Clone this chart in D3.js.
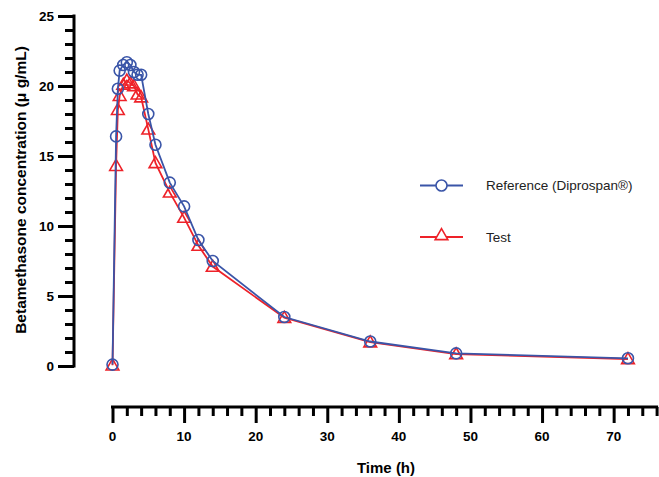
<!DOCTYPE html>
<html>
<head>
<meta charset="utf-8">
<script src="https://cdn.jsdelivr.net/npm/d3@7"></script>
<style>
  body { margin: 0; background: #fff; }
  text { font-family: "Liberation Sans", Arial, sans-serif; }
</style>
</head>
<body>
<div id="chart"></div>
<script>
var timeH = [0, 0.5, 0.75, 1, 1.5, 2, 2.5, 3, 3.5, 4, 5, 6, 8, 10, 12, 14, 24, 36, 48, 72];
var referenceConc = [0.1, 16.4, 19.8, 21.1, 21.5, 21.7, 21.5, 21.0, 20.8, 20.8, 18.0, 15.8, 13.1, 11.4, 9.0, 7.5, 3.5, 1.75, 0.9, 0.55];
var testConc = [0.05, 14.3, 18.3, 19.3, 20.1, 20.4, 20.2, 20.0, 19.4, 19.2, 16.9, 14.5, 12.4, 10.6, 8.6, 7.1, 3.45, 1.7, 0.85, 0.5];
var xMajorTicks = [0, 10, 20, 30, 40, 50, 60, 70];
var yMajorTicks = [0, 5, 10, 15, 20, 25];
var seriesNames = ["Reference (Diprospan\u00AE)", "Test"];

var d3Dimension = { width: 659, height: 477 };
var blue = "#3a55a8";
var red = "#ee2229";

var svg = d3.select("#chart").append("svg")
    .attr("width", d3Dimension.width)
    .attr("height", d3Dimension.height);

var x = d3.scaleLinear().domain([0, 76]).range([112.5, 656.6]);
var y = d3.scaleLinear().domain([0, 25]).range([366, 16]);

// y axis, GraphPad style
var yAxisG = svg.append("g").attr("transform", "translate(74,0)");
yAxisG.call(d3.axisLeft(y).tickValues(d3.range(0, 26, 1)).tickSize(9).tickFormat(""));
yAxisG.call(function(g) {
  g.selectAll(".tick").filter(function(d) { return d % 5 === 0; }).select("line").attr("x2", -16);
});
yAxisG.selectAll(".domain").remove();
yAxisG.append("line").attr("x1", 0).attr("x2", 0).attr("y1", y(25) - 1.5).attr("y2", y(0) + 1.5);
yAxisG.selectAll("line").attr("stroke", "#000").attr("stroke-width", 3);
yAxisG.selectAll(".ylab").data(yMajorTicks).enter().append("text")
    .attr("x", -20).attr("y", function(d) { return y(d); }).attr("dy", "0.35em")
    .attr("text-anchor", "end").attr("font-size", 13.5).attr("font-weight", "bold").attr("fill", "#000")
    .style("font-family", "'Liberation Sans', Arial, sans-serif")
    .text(function(d) { return d; });

// x axis, offset below
var xAxisG = svg.append("g").attr("transform", "translate(0,407)");
xAxisG.call(d3.axisBottom(x).tickValues(d3.range(0, 77, 2)).tickSize(9).tickFormat(""));
xAxisG.call(function(g) {
  g.selectAll(".tick").filter(function(d) { return d % 10 === 0; }).select("line").attr("y2", 16);
});
xAxisG.selectAll(".domain").remove();
xAxisG.append("line").attr("x1", x(0) - 1.5).attr("x2", x(76) + 1.5).attr("y1", 0).attr("y2", 0);
xAxisG.selectAll("line").attr("stroke", "#000").attr("stroke-width", 3);
xAxisG.selectAll(".xlab").data(xMajorTicks).enter().append("text")
    .attr("x", function(d) { return x(d); }).attr("y", 34)
    .attr("text-anchor", "middle").attr("font-size", 13.5).attr("font-weight", "bold").attr("fill", "#000")
    .style("font-family", "'Liberation Sans', Arial, sans-serif")
    .text(function(d) { return d; });

svg.append("text").attr("x", 386).attr("y", 473).attr("text-anchor", "middle")
    .attr("font-size", 15).attr("font-weight", "bold").text("Time (h)");
svg.append("text").attr("transform", "translate(26,190) rotate(-90)").attr("text-anchor", "middle")
    .attr("font-size", 15.5).attr("font-weight", "bold").text("Betamethasone concentration (\u03BC g/mL)");

var line = d3.line().x(function(d) { return x(d[0]); }).y(function(d) { return y(d[1]); });
var refData = d3.zip(timeH, referenceConc);
var testData = d3.zip(timeH, testConc);
var tri = d3.symbol().type(d3.symbolTriangle).size(70);

svg.append("path").datum(testData).attr("d", line)
    .attr("fill", "none").attr("stroke", red).attr("stroke-width", 1.8);
svg.selectAll(".tri").data(testData).enter().append("path")
    .attr("d", tri).attr("transform", function(d) { return "translate(" + x(d[0]) + "," + (y(d[1]) + 1) + ")"; })
    .attr("fill", "none").attr("stroke", red).attr("stroke-width", 1.6);

svg.append("path").datum(refData).attr("d", line)
    .attr("fill", "none").attr("stroke", blue).attr("stroke-width", 1.8);
svg.selectAll(".circ").data(refData).enter().append("circle")
    .attr("cx", function(d) { return x(d[0]); }).attr("cy", function(d) { return y(d[1]); })
    .attr("r", 5.5).attr("fill", "none").attr("stroke", blue).attr("stroke-width", 1.6);

// legend
var legend = svg.append("g");
legend.append("line").attr("x1", 420).attr("x2", 463).attr("y1", 185.5).attr("y2", 185.5)
    .attr("stroke", blue).attr("stroke-width", 1.8);
legend.append("circle").attr("cx", 441.5).attr("cy", 185.5).attr("r", 5.5)
    .attr("fill", "#fff").attr("stroke", blue).attr("stroke-width", 1.6);
legend.append("line").attr("x1", 420).attr("x2", 463).attr("y1", 237).attr("y2", 237)
    .attr("stroke", red).attr("stroke-width", 1.8);
legend.append("path").attr("d", tri).attr("transform", "translate(441.5,236)")
    .attr("fill", "#fff").attr("stroke", red).attr("stroke-width", 1.6);
legend.selectAll(".ltxt").data(seriesNames).enter().append("text")
    .attr("x", 486).attr("y", function(d, i) { return 185.5 + i * 51.5; }).attr("dy", "0.35em")
    .attr("font-size", 13.5).attr("fill", "#222")
    .text(function(d) { return d; });
</script>
</body>
</html>
